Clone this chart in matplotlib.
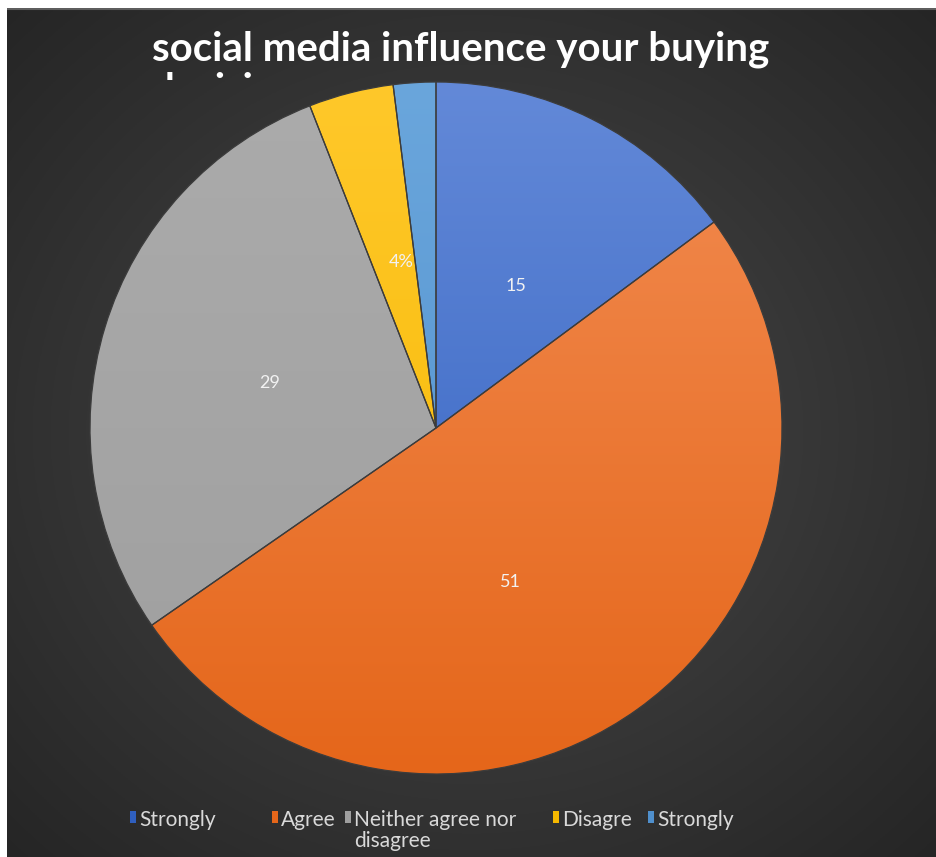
import numpy as np
import matplotlib
matplotlib.use("Agg")
import matplotlib.pyplot as plt
from matplotlib.patches import Rectangle
from matplotlib.colors import to_rgb
from matplotlib.transforms import Bbox

plt.rcParams['font.family'] = ['Lato', 'DejaVu Sans']

# survey answers, clockwise from 12 o'clock
categories = ["Strongly agree", "Agree", "Neither agree nor disagree",
              "Disagree", "Strongly disagree"]
shares = [15, 51, 29, 4, 2]
slice_labels = ["15", "51", "29", "4%", ""]
legend_labels = ["Strongly", "Agree", "Neither agree nor\ndisagree",
                 "Disagre", "Strongly"]

# (light top, dark bottom) for each slice
slice_colors = [("#6389d8", "#2f5fbf"),
                ("#f28c52", "#e5661a"),
                ("#ababab", "#9f9f9f"),
                ("#ffc82a", "#f5b800"),
                ("#6aa6dc", "#4f8fcc")]

W, H = 936, 857
fig = plt.figure(figsize=(W / 100, H / 100), dpi=100)
fig.patch.set_facecolor("white")

# dark panel with a soft radial glow
bg = fig.add_axes([7 / W, 0, 1 - 7 / W, 1 - 8 / H])
bg.set_axis_off()
yy, xx = np.mgrid[0:1:400j, 0:1:400j]
r = np.sqrt(((xx - 0.5) / 0.75) ** 2 + ((yy - 0.5) / 0.75) ** 2)
r = np.clip(r / 0.95, 0, 1)
c0 = np.array(to_rgb("#4c4c4c"))
c1 = np.array(to_rgb("#252525"))
img = c0 + (c1 - c0) * r[..., None] ** 0.9
bg.imshow(img, extent=[0, 1, 0, 1], aspect="auto", origin="lower")
bg.axhline(0.999, color="#5e5e5e", lw=1.5)
bg.set_xlim(0, 1)
bg.set_ylim(0, 1)

# pie
cx, cy, rad = 436, 428, 346
ax = fig.add_axes([(cx - rad) / W, (H - cy - rad) / H, 2 * rad / W, 2 * rad / H])
ax.set_axis_off()
ax.patch.set_alpha(0)

wedges, _ = ax.pie(shares, startangle=90, counterclock=False, radius=1,
                   colors=[c[1] for c in slice_colors],
                   wedgeprops=dict(edgecolor="#3c3c3c", linewidth=0.9))
ax.set_xlim(-1, 1)
ax.set_ylim(-1, 1)
ax.set_aspect("auto")

grad = np.linspace(0, 1, 256)[:, None]
for w, (light, dark) in zip(wedges, slice_colors):
    a = np.array(to_rgb(dark))
    b = np.array(to_rgb(light))
    g = a + (b - a) * grad[..., None]
    g = np.repeat(g, 2, axis=1)
    im = ax.imshow(g, extent=[-1, 1, -1, 1], origin="lower", aspect="auto",
                   zorder=w.get_zorder() + 0.1)
    im.set_clip_path(w)
    w.set_zorder(w.get_zorder() + 0.2)
    w.set_facecolor("none")

# value labels
label_pos = [(0.23, 0.41), (0.215, -0.445), (-0.48, 0.13), (-0.1, 0.48)]
for txt, (lx, ly) in zip(slice_labels, label_pos):
    ax.text(lx, ly, txt, ha="center", va="center", color="#f2f2f2",
            fontsize=13, zorder=10)

# title, second line cut off by the plot area
title = fig.text(152 / W, 1 - 31 / H,
                 "social media influence your buying\ndecision",
                 ha="left", va="top", color="white", fontsize=29,
                 fontweight="bold", linespacing=1.12)
title.set_clip_box(Bbox.from_extents(0, H - 80, W, H))
title.set_clip_on(True)

# legend
leg_x = [130, 272, 345, 553, 648]
for lab, (light, dark), x0 in zip(legend_labels, slice_colors, leg_x):
    fig.patches.append(Rectangle((x0 / W, 1 - 823 / H), 6 / W, 12 / H,
                                 transform=fig.transFigure,
                                 facecolor=dark, edgecolor="none"))
    fig.text((x0 + 9) / W, 1 - 810 / H, lab, ha="left", va="top",
             color="#d9d9d9", fontsize=15, linespacing=1.05)

fig.savefig("out.png", dpi=100)
